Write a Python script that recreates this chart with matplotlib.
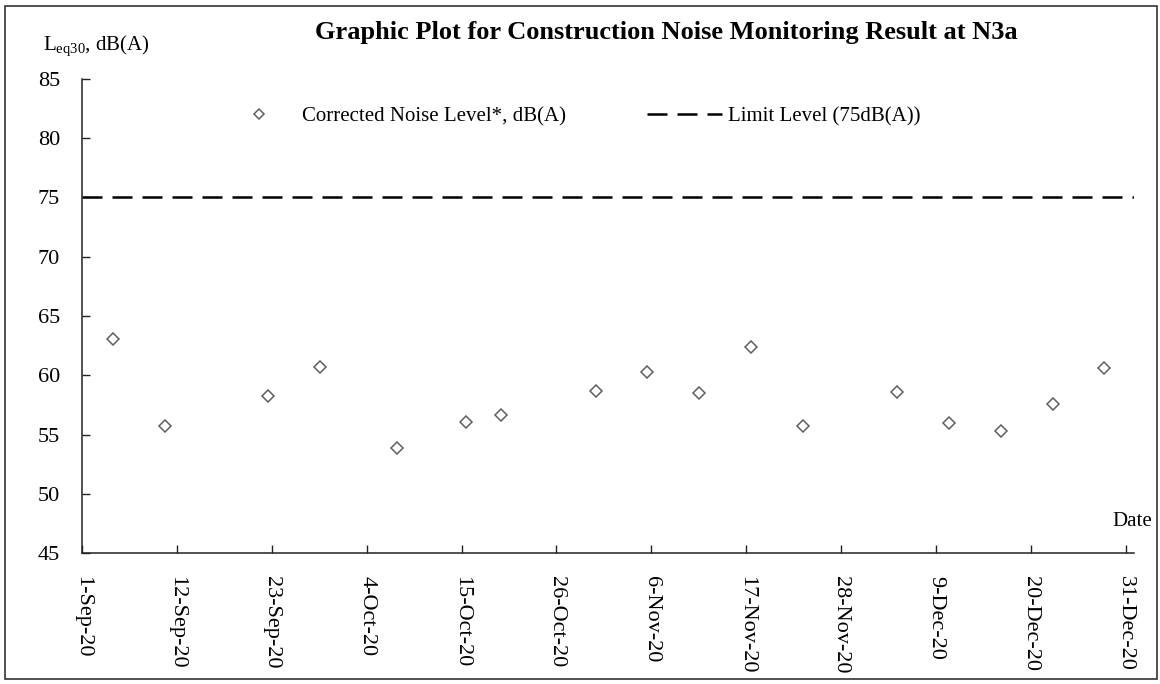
import matplotlib
matplotlib.use("Agg")
import matplotlib.pyplot as plt
from matplotlib.patches import Rectangle
import pandas as pd

plt.rcParams['font.family'] = ['Liberation Serif', 'DejaVu Serif']
plt.rcParams['mathtext.fontset'] = 'custom'
plt.rcParams['mathtext.rm'] = 'Liberation Serif'

# measurement dates and corrected noise levels, dB(A)
dates = ["2020-09-04 13:00", "2020-09-10 13:00", "2020-09-22 13:00", "2020-09-28 13:00",
         "2020-10-07 13:00", "2020-10-15 13:00", "2020-10-19 13:00", "2020-10-30 13:00",
         "2020-11-05 13:00", "2020-11-11 13:00", "2020-11-17 13:00", "2020-11-23 13:00",
         "2020-12-04 13:00", "2020-12-10 13:00", "2020-12-16 13:00", "2020-12-22 13:00",
         "2020-12-28 13:00"]
noise = [63.1, 55.7, 58.3, 60.7, 53.9, 56.1, 56.7, 58.7, 60.3, 58.5, 62.4, 55.7,
         58.6, 56.0, 55.3, 57.6, 60.6]
limit = 75

tick_dates = ["2020-09-01", "2020-09-12", "2020-09-23", "2020-10-04", "2020-10-15",
              "2020-10-26", "2020-11-06", "2020-11-17", "2020-11-28", "2020-12-09",
              "2020-12-20", "2020-12-31"]
tick_labels = ["1-Sep-20", "12-Sep-20", "23-Sep-20", "4-Oct-20", "15-Oct-20", "26-Oct-20",
               "6-Nov-20", "17-Nov-20", "28-Nov-20", "9-Dec-20", "20-Dec-20", "31-Dec-20"]
yticks = [45, 50, 55, 60, 65, 70, 75, 80, 85]

x = pd.to_datetime(dates)
x_start = pd.Timestamp("2020-09-01")
x_end = pd.Timestamp("2021-01-01")

fig = plt.figure(figsize=(11.6, 6.84), dpi=100)
ax = fig.add_axes([0.0709, 0.1911, 0.9068, 0.6936])

ax.plot(x, noise, linestyle='none', marker='D', markersize=6.6, markerfacecolor='white',
        markeredgecolor='#5f5f5f', markeredgewidth=1.1, label="Corrected Noise Level*, dB(A)")
ax.plot([x_start, x_end], [limit, limit], color='black', linewidth=1.8, dashes=(8, 4),
        label="Limit Level (75dB(A))")

ax.set_xlim(x_start, x_end)
ax.set_ylim(45, 85)
ax.set_yticks(yticks)
ax.set_xticks(pd.to_datetime(tick_dates))
ax.set_xticklabels(tick_labels, rotation=-90, fontsize=16)
ax.tick_params(axis='y', labelsize=16, pad=16)
ax.tick_params(axis='x', pad=16)
ax.tick_params(direction='in', length=6, width=1.0, color='#222222')

for side in ['top', 'right']:
    ax.spines[side].set_visible(False)
for side in ['left', 'bottom']:
    ax.spines[side].set_linewidth(1.1)
    ax.spines[side].set_color('#222222')

fig.text(666 / 1160, 1 - 32 / 684, "Graphic Plot for Construction Noise Monitoring Result at N3a",
         ha='center', va='center', fontsize=19, fontweight='bold')
fig.text(43 / 1160, 1 - 46 / 684, r"L$_{\mathregular{eq30}}$, dB(A)", ha='left', va='center',
         fontsize=15)
fig.text(1152 / 1160, 1 - 522 / 684, "Date", ha='right', va='center', fontsize=15)

fig.legend(ncol=2, loc='center left', bbox_to_anchor=(221 / 1160, 1 - 117 / 684),
           frameon=False, fontsize=15, handlelength=3.6, handletextpad=0.27,
           columnspacing=3.9, markerscale=0.8, borderpad=0, borderaxespad=0)

fig.patches.append(Rectangle((5 / 1160, 5 / 684), 1152 / 1160, 673 / 684,
                             transform=fig.transFigure, fill=False,
                             edgecolor='#333333', linewidth=1.2))

fig.savefig("out.png", dpi=100)
